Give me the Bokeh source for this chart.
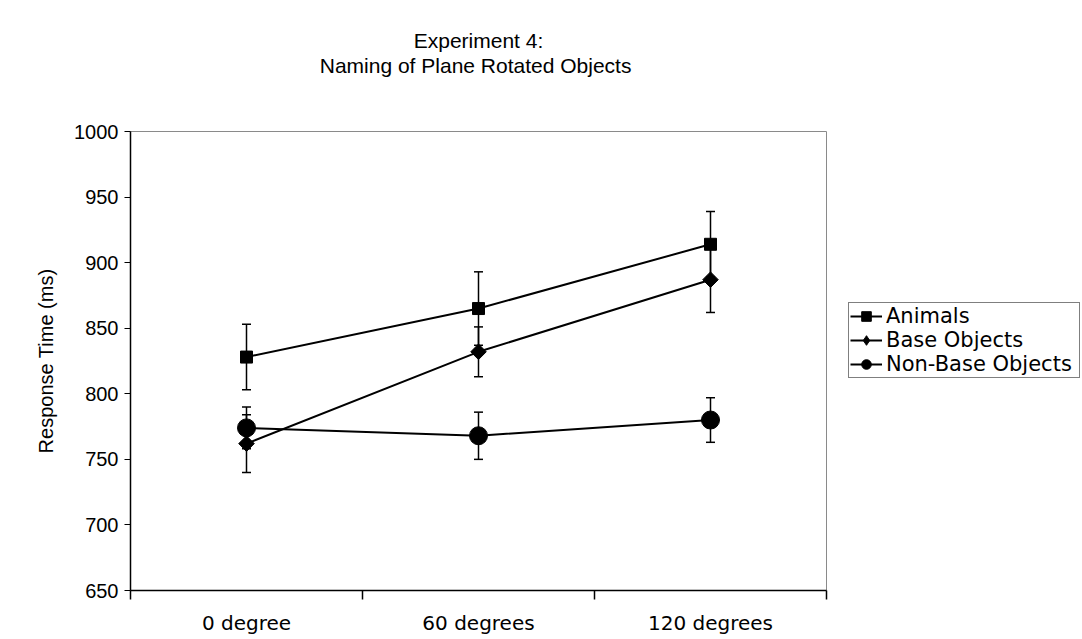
import math
from bokeh.plotting import figure
from bokeh.models import (ColumnDataSource, FixedTicker, Whisker, TeeHead, Legend,
                          LegendItem, Title, Range1d)
from bokeh.embed import file_html
from bokeh.resources import INLINE

# Mean naming latencies (ms) and error bar half-widths per rotation condition
categories = ["0 degree", "60 degrees", "120 degrees"]
animals = [828, 865, 914]
animals_err = [25, 28, 25]
base_objects = [762, 832, 887]
base_objects_err = [22, 19, 25]
non_base_objects = [774, 768, 780]
non_base_objects_err = [16, 18, 17]
y_ticks = [650, 700, 750, 800, 850, 900, 950, 1000]

SANS = "Liberation Sans"
WIDE = "DejaVu Sans"
x_pos = [i + 0.5 for i in range(len(categories))]

p = figure(frame_width=696, frame_height=459, output_backend="svg", toolbar_location=None,
           x_range=Range1d(0, len(categories)), y_range=Range1d(650, 1000),
           min_border_left=130, min_border_right=256, min_border_top=131,
           min_border_bottom=49)
p.title = None
p.xgrid.visible = False
p.ygrid.visible = False
p.outline_line_color = "#8a8a8a"
p.outline_line_width = 1
p.background_fill_color = "white"
p.border_fill_color = "white"

# x axis: category labels centred, boundary ticks between categories
xa = p.xaxis[0]
xa.ticker = FixedTicker(ticks=x_pos, minor_ticks=list(range(len(categories) + 1)))
xa.major_label_overrides = {x: c for x, c in zip(x_pos, categories)}
xa.major_tick_line_color = None
xa.major_tick_out = 0
xa.major_tick_in = 0
xa.minor_tick_out = 9
xa.minor_tick_in = 0
xa.minor_tick_line_color = "black"
xa.minor_tick_line_width = 1.5
xa.axis_line_color = "black"
xa.axis_line_width = 1.5
xa.major_label_text_font = WIDE
xa.major_label_text_font_size = "20px"
xa.major_label_text_color = "black"
xa.major_label_standoff = 11

ya = p.yaxis[0]
ya.ticker = FixedTicker(ticks=y_ticks)
ya.major_tick_out = 6
ya.major_tick_in = 0
ya.minor_tick_line_color = None
ya.major_tick_line_color = "black"
ya.major_tick_line_width = 1.2
ya.axis_line_color = "black"
ya.axis_line_width = 1.5
ya.major_label_text_font = SANS
ya.major_label_text_font_size = "20px"
ya.major_label_text_color = "black"
ya.major_label_standoff = 6
ya.axis_label = "Response Time (ms)"
ya.axis_label_text_font = SANS
ya.axis_label_text_font_size = "20px"
ya.axis_label_text_font_style = "normal"
ya.axis_label_text_color = "black"
ya.axis_label_standoff = 14

# name, values, errors, plot marker, plot size, plot angle, legend-key marker
series = [
    ("Animals", animals, animals_err, "square", 12, 0.0, None),
    ("Base Objects", base_objects, base_objects_err, "square", 11, math.pi / 4, "diamond"),
    ("Non-Base Objects", non_base_objects, non_base_objects_err, "circle", 18, 0.0, None),
]

items = []
for name, vals, errs, marker, size, angle, key_marker in series:
    src = ColumnDataSource(dict(
        x=x_pos, y=vals,
        upper=[v + e for v, e in zip(vals, errs)],
        lower=[v - e for v, e in zip(vals, errs)],
    ))
    w = Whisker(source=src, base="x", upper="upper", lower="lower",
                dimension="height", line_color="black", line_width=1.5,
                upper_head=TeeHead(size=9, line_color="black", line_width=1.5),
                lower_head=TeeHead(size=9, line_color="black", line_width=1.5))
    p.add_layout(w)
    ln = p.line("x", "y", source=src, line_color="black", line_width=2)
    sc = p.scatter("x", "y", source=src, marker=marker, size=size, angle=angle,
                   fill_color="black", line_color="black")
    key = sc
    if key_marker is not None:
        # zero-size twin of the points, so the legend key shows an upright diamond
        key = p.scatter("x", "y", source=src, marker=key_marker, size=0,
                        fill_color="black", line_color="black")
    items.append(LegendItem(label=name, renderers=[ln, key]))

legend = Legend(items=items, location=(22, 212), orientation="vertical",
                glyph_width=32, glyph_height=24, label_height=20, label_width=192,
                label_standoff=4, padding=1, spacing=0, margin=0,
                border_line_color="black", border_line_width=1,
                background_fill_color="white", background_fill_alpha=1,
                label_text_font=WIDE, label_text_font_size="21px",
                label_text_baseline="middle", label_text_color="black")
p.add_layout(legend, "right")

# Heading: titles stack upward from the frame, the blank one keeps a gap
title_props = Title.properties()
heading = [(" ", "47px"), ("Naming of  Plane Rotated Objects", "21px"),
           ("Experiment 4:", "21px")]
for txt, fsize in heading:
    t = Title(text=txt, align="center", text_font=SANS, text_font_size=fsize,
              text_font_style="normal", text_color="black")
    if "standoff" in title_props:
        t.standoff = 0
    p.add_layout(t, "above")

open("out.html", "w").write(file_html(p, INLINE))
